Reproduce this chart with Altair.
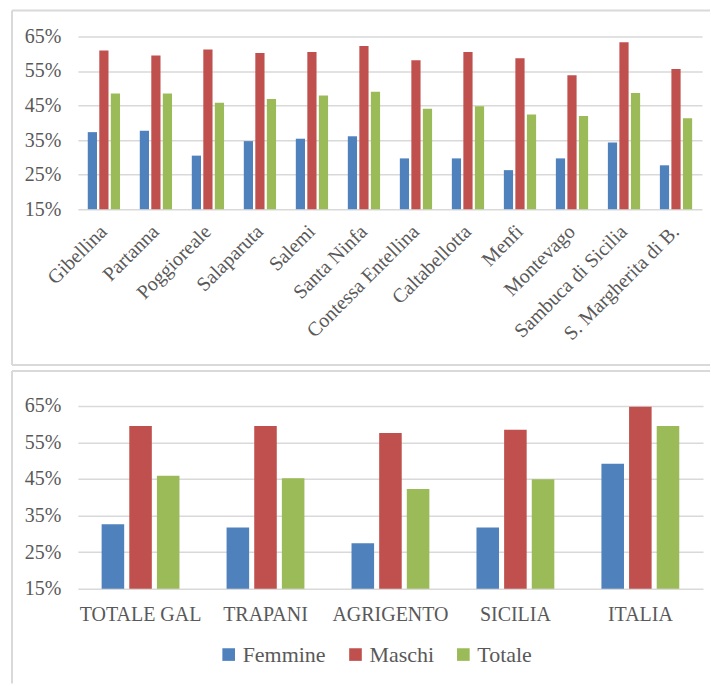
import altair as alt
import pandas as pd

# Occupation rates (%) by comune, sex and total
COMUNI = [
    "Gibellina", "Partanna", "Poggioreale", "Salaparuta", "Salemi", "Santa Ninfa",
    "Contessa Entellina", "Caltabellotta", "Menfi", "Montevago",
    "Sambuca di Sicilia", "S. Margherita di B.",
]
femmine_comuni = [37.3, 37.7, 30.5, 34.7, 35.4, 36.1, 29.7, 29.7, 26.3, 29.7, 34.3, 27.7]
maschi_comuni = [60.9, 59.5, 61.2, 60.2, 60.5, 62.2, 58.1, 60.5, 58.7, 53.8, 63.3, 55.6]
totale_comuni = [48.5, 48.5, 45.8, 46.9, 47.9, 49.0, 44.1, 44.8, 42.4, 42.0, 48.6, 41.3]

# Same indicator for the aggregate territories
AREE = ["TOTALE GAL", "TRAPANI", "AGRIGENTO", "SICILIA", "ITALIA"]
femmine_aree = [32.6, 31.7, 27.4, 31.7, 49.2]
maschi_aree = [59.5, 59.5, 57.6, 58.5, 64.8]
totale_aree = [45.9, 45.2, 42.3, 44.9, 59.5]

SERIE = ["Femmine", "Maschi", "Totale"]
COLORI = ["#4F81BD", "#C0504D", "#9BBB59"]
TICKS = [15, 25, 35, 45, 55, 65]

FONT = "Liberation Serif"
TEXT = "#595959"
GRID = "#D9D9D9"


def long_table(cats, key, f, m, t):
    rows = []
    for i, c in enumerate(cats):
        for s, vals in zip(SERIE, (f, m, t)):
            rows.append({key: c, "serie": s, "valore": vals[i]})
    return pd.DataFrame(rows)


df_comuni = long_table(COMUNI, "luogo", femmine_comuni, maschi_comuni, totale_comuni)
df_aree = long_table(AREE, "luogo", femmine_aree, maschi_aree, totale_aree)

y_axis = alt.Axis(
    values=TICKS, labelExpr="datum.value + '%'", title=None,
    domain=False, ticks=False, grid=True, gridColor=GRID, gridWidth=1.5,
    labelFont=FONT, labelFontSize=20, labelColor=TEXT, labelPadding=17,
)
y_scale = alt.Scale(domain=[15, 65], nice=False, zero=False)
frame_data = pd.DataFrame({"k": [0]})


def frame(rules):
    layers = []
    for enc in rules:
        layers.append(
            alt.Chart(frame_data).mark_rule(color=GRID, strokeWidth=2).encode(**enc)
        )
    return layers


# Upper panel: single comuni
bars_top = alt.Chart(df_comuni).mark_bar().encode(
    x=alt.X(
        "luogo:N", sort=COMUNI, title=None,
        scale=alt.Scale(paddingInner=0.38, paddingOuter=0.19),
        axis=alt.Axis(
            labelAngle=-45, labelAlign="right", labelBaseline="middle",
            labelPadding=19, ticks=False, domain=False, grid=False,
            labelFont=FONT, labelFontSize=20, labelColor=TEXT, labelLimit=300,
        ),
    ),
    xOffset=alt.XOffset("serie:N", sort=SERIE, scale=alt.Scale(paddingInner=0.2)),
    y=alt.Y("valore:Q", scale=y_scale, axis=y_axis),
    y2=alt.datum(15),
    color=alt.Color("serie:N", scale=alt.Scale(domain=SERIE, range=COLORI), legend=None),
)

# Panel borders (upper box, and top/left edges of the lower box)
top = alt.layer(
    bars_top,
    *frame([
        dict(x=alt.value(-66), x2=alt.value(633), y=alt.value(-26)),
        dict(x=alt.value(-66), y=alt.value(-26), y2=alt.value(329)),
        dict(x=alt.value(-66), x2=alt.value(633), y=alt.value(329)),
        dict(x=alt.value(-66), x2=alt.value(633), y=alt.value(335)),
        dict(x=alt.value(-66), y=alt.value(335), y2=alt.value(648)),
    ]),
).properties(width=625, height=173)

# Lower panel: GAL total, provinces, region and country
bottom = alt.Chart(df_aree).mark_bar().encode(
    x=alt.X(
        "luogo:N", sort=AREE, title=None,
        scale=alt.Scale(paddingInner=0.377, paddingOuter=0.19),
        axis=alt.Axis(
            labelAngle=0, labelBaseline="top", labelPadding=16,
            ticks=False, domain=False, grid=False,
            labelFont=FONT, labelFontSize=20, labelColor=TEXT,
        ),
    ),
    xOffset=alt.XOffset("serie:N", sort=SERIE, scale=alt.Scale(paddingInner=0.184)),
    y=alt.Y("valore:Q", scale=y_scale, axis=y_axis),
    y2=alt.datum(15),
    color=alt.Color(
        "serie:N", scale=alt.Scale(domain=SERIE, range=COLORI),
        legend=alt.Legend(
            title=None, orient="none", direction="horizontal",
            legendX=140, legendY=238,
            symbolType="square", symbolSize=160, symbolStrokeWidth=0,
            labelFont=FONT, labelFontSize=22, labelColor=TEXT,
            labelOffset=3, columnPadding=18,
        ),
    ),
).properties(width=626, height=183)

chart = (
    alt.vconcat(top, bottom, spacing=197, bounds="flush")
    .resolve_scale(color="independent", xOffset="independent", x="independent")
    .resolve_legend(color="independent")
    .properties(padding={"left": 11, "top": 9, "right": 0, "bottom": 0})
    .configure(
        background="white",
        font=FONT,
        style={"guide-label": {"font": FONT, "fill": TEXT}},
    )
    .configure_view(stroke=None)
    .configure_legend(labelFont=FONT, labelFontSize=22, labelColor=TEXT)
)

chart.save("out.html", embed_options={"renderer": "svg", "actions": False})
